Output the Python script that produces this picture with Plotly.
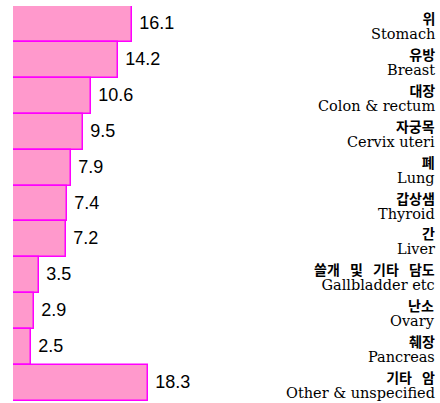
import plotly.graph_objects as go

korean = ["위", "유방", "대장", "자궁목", "폐", "갑상샘", "간", "쓸개 및 기타 담도", "난소", "췌장", "기타 암"]
english = ["Stomach", "Breast", "Colon & rectum", "Cervix uteri", "Lung", "Thyroid", "Liver",
           "Gallbladder etc", "Ovary", "Pancreas", "Other & unspecified"]
values = [16.1, 14.2, 10.6, 9.5, 7.9, 7.4, 7.2, 3.5, 2.9, 2.5, 18.3]

cats = list(range(len(values)))

fig = go.Figure(go.Bar(
    x=values, y=cats, orientation="h",
    marker=dict(color="#FF99CC", line=dict(color="#FF00FF", width=1.5)),
    text=[f" {v:.1f}" for v in values], textposition="outside",
    textfont=dict(family="Arial, Liberation Sans", size=18, color="black"),
    cliponaxis=False, width=1.0, hoverinfo="skip",
))

for i, (k, e) in enumerate(zip(korean, english)):
    label = (f"<span style='font-family:Noto Sans CJK KR;font-size:14px;word-spacing:7px'><b>{k}</b></span><br>"
             f"<span style='font-family:DejaVu Serif;font-size:14.5px'>{e}</span>")
    fig.add_annotation(xref="paper", x=1, yref="y", y=i, xanchor="right", yanchor="middle",
                       yshift=-1, text=label, showarrow=False, borderpad=0, align="right",
                       font=dict(family="DejaVu Serif", size=11.5, color="black"))

fig.update_layout(
    width=440, height=403,
    margin=dict(l=13, r=4, t=6, b=2),
    plot_bgcolor="white", paper_bgcolor="white",
    bargap=0, showlegend=False,
    xaxis=dict(range=[0, (436 - 13) / 7.36], visible=False, fixedrange=True),
    yaxis=dict(range=[10.5, -0.5], visible=False, fixedrange=True),
)

fig.write_html("out.html", config={"displayModeBar": False},
               post_script="document.body.style.margin='0';")
